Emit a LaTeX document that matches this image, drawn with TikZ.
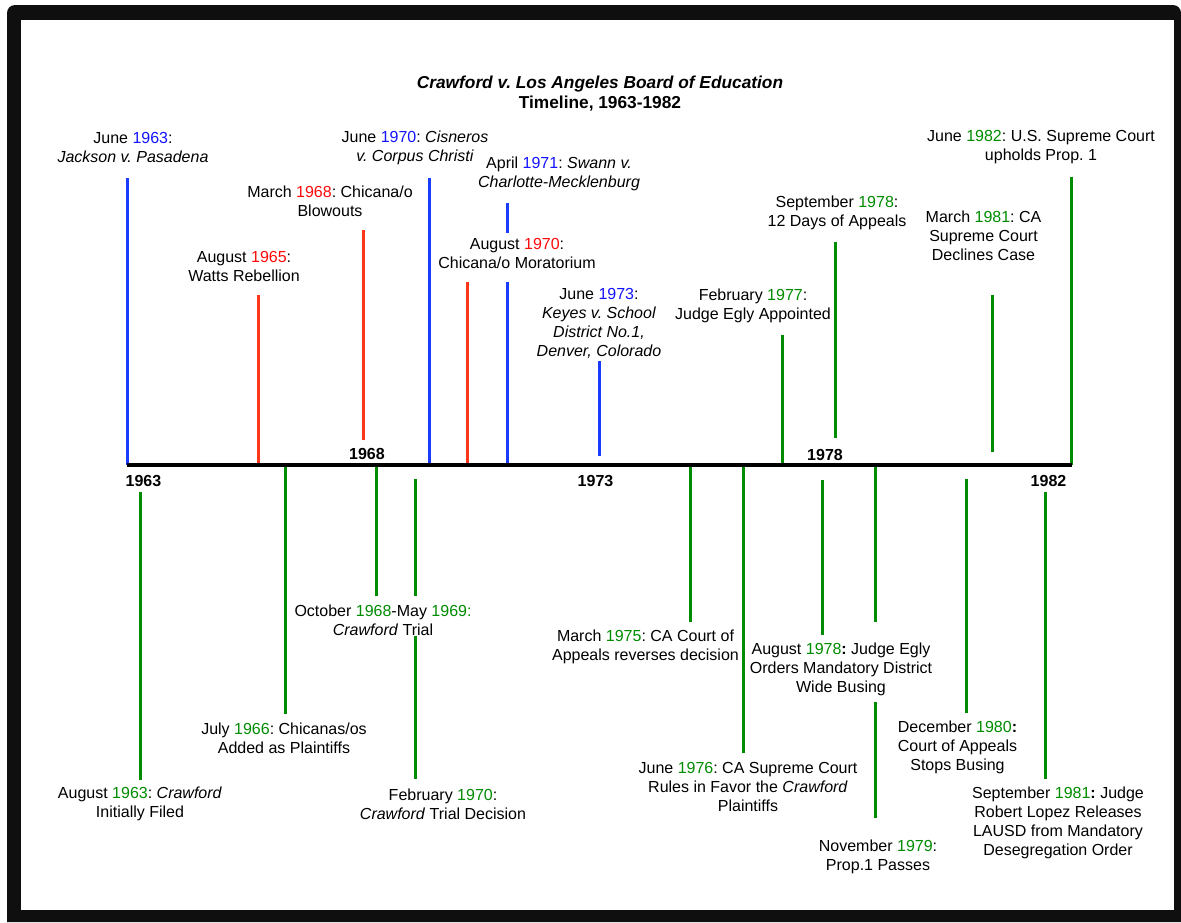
\documentclass[tikz,border=0pt]{standalone}
\usepackage{fontspec}
\setmainfont{Liberation Sans}
\frenchspacing

\definecolor{lineblue}{RGB}{25,60,255}
\definecolor{linered}{RGB}{255,55,25}
\definecolor{linegreen}{RGB}{0,140,0}
\definecolor{yrblue}{RGB}{20,20,255}
\definecolor{yrred}{RGB}{255,10,10}
\definecolor{yrgreen}{RGB}{0,140,0}
\newcommand{\byr}[1]{\textcolor{yrblue}{#1}}
\newcommand{\ryr}[1]{\textcolor{yrred}{#1}}
\newcommand{\gyr}[1]{\textcolor{yrgreen}{#1}}

\begin{document}
\begin{tikzpicture}[x=1pt, y=-1pt, font=\fontsize{16}{19}\selectfont]
        \tikzstyle{lbl}=[align=center, inner sep=0pt];
        \tikzstyle{yr}=[inner sep=0pt, font=\fontsize{16}{19}\selectfont\bfseries];
        \tikzstyle{bline}=[draw=lineblue, line width=3pt];
        \tikzstyle{rline}=[draw=linered, line width=3pt];
        \tikzstyle{gline}=[draw=linegreen, line width=3pt];
        \useasboundingbox (0,0) rectangle (1181,922);
        \fill[black!94] (1181,922) -- (7,922) {[rounded corners=8pt] -- (7,5) -- (1181,5)} -- cycle;
        \fill[white] (21,20) rectangle (1174,910);

        \node[lbl, font=\fontsize{17.3}{20}\selectfont\bfseries] (title) at (600,94) {\textit{Crawford v. Los Angeles Board of Education}\\Timeline, 1963-1982};

        % above the line
        \node[lbl] (jackson) at (133,147.5) {June \byr{1963}:\\\textit{Jackson v. Pasadena}};
        \node[lbl] (watts) at (244,266.5) {August \ryr{1965}:\\Watts Rebellion};
        \node[lbl] (blowouts) at (330,201.5) {March \ryr{1968}: Chicana/o\\Blowouts};
        \node[lbl] (cisneros) at (415,147.5) {June \byr{1970}: \textit{Cisneros}\\\textit{v. Corpus Christi}};
        \node[lbl] (swann) at (559,173.5) {April \byr{1971}: \textit{Swann v.}\\\textit{Charlotte-Mecklenburg}};
        \node[lbl] (moratorium) at (517,253) {August \ryr{1970}:\\Chicana/o Moratorium};
        \node[lbl] (keyes) at (599,323.5) {June \byr{1973}:\\\textit{Keyes v. School}\\\textit{District No.1,}\\\textit{Denver, Colorado}};
        \node[lbl] (appointed) at (753,305.5) {February \gyr{1977}:\\Judge Egly Appointed};
        \node[lbl] (appeals) at (837,212.5) {September \gyr{1978}:\\12 Days of Appeals};
        \node[lbl] (declines) at (983.5,235.5) {March \gyr{1981}: CA\\Supreme Court\\Declines Case};
        \node[lbl] (upholds) at (1041,147.5) {June \gyr{1982}: U.S. Supreme Court\\upholds Prop. 1};

        % below the line
        \node[lbl] (filed) at (140,804) {August \gyr{1963}: \textit{Crawford}\\Initially Filed};
        \node[lbl] (plaintiffs) at (284,738.5) {July \gyr{1966}: Chicanas/os\\Added as Plaintiffs};
        \node[lbl] (trial) at (383,620) {October \gyr{1968}-May \gyr{1969:}\\\textit{Crawford} Trial};
        \node[lbl] (decision) at (443,804) {February \gyr{1970}:\\\textit{Crawford} Trial Decision};
        \node[lbl] (reverses) at (645.5,646.5) {March \gyr{1975}: CA Court of\\Appeals reverses decision};
        \node[lbl] (favor) at (748,787) {June \gyr{1976}: CA Supreme Court\\Rules in Favor the \textit{Crawford}\\Plaintiffs};
        \node[lbl] (busing) at (841,669.5) {August \gyr{1978}\textbf{:} Judge Egly\\Orders Mandatory District\\Wide Busing};
        \node[lbl] (passes) at (878,856.5) {November \gyr{1979}:\\Prop.1 Passes};
        \node[lbl] (stops) at (957.5,747) {December \gyr{1980}\textbf{:}\\Court of Appeals\\Stops Busing};
        \node[lbl] (lopez) at (1058,823) {September \gyr{1981}\textbf{:} Judge\\Robert Lopez Releases\\LAUSD from Mandatory\\Desegregation Order};

        % line ends
        \coordinate (jackson-t) at (127,178);      \coordinate (jackson-b) at (127,465);
        \coordinate (watts-t) at (258,295);        \coordinate (watts-b) at (258,463);
        \coordinate (blowouts-t) at (363,230);     \coordinate (blowouts-b) at (363,440);
        \coordinate (cisneros-t) at (429,178);     \coordinate (cisneros-b) at (429,465);
        \coordinate (moratorium-t) at (467,282);   \coordinate (moratorium-b) at (467,463);
        \coordinate (swann-t) at (507,203);        \coordinate (swann-m) at (507,233);
        \coordinate (swann-n) at (507,282);        \coordinate (swann-b) at (507,465);
        \coordinate (keyes-t) at (599,361);        \coordinate (keyes-b) at (599,456);
        \coordinate (appointed-t) at (782,335);    \coordinate (appointed-b) at (782,465);
        \coordinate (appeals-t) at (835,242);      \coordinate (appeals-b) at (835,438);
        \coordinate (declines-t) at (992,295);     \coordinate (declines-b) at (992,452);
        \coordinate (upholds-t) at (1071,177);     \coordinate (upholds-b) at (1071,465);
        \coordinate (filed-t) at (140,492);        \coordinate (filed-b) at (140,780);
        \coordinate (plaintiffs-t) at (285,467);   \coordinate (plaintiffs-b) at (285,714);
        \coordinate (trial-t) at (376,467);        \coordinate (trial-b) at (376,596);
        \coordinate (decision-t) at (415,479);     \coordinate (decision-m) at (415,596);
        \coordinate (decision-n) at (415,636);     \coordinate (decision-b) at (415,779);
        \coordinate (reverses-t) at (690,467);     \coordinate (reverses-b) at (690,622);
        \coordinate (favor-t) at (743,467);        \coordinate (favor-b) at (743,753);
        \coordinate (busing-t) at (822,480);       \coordinate (busing-b) at (822,635);
        \coordinate (passes-t) at (875,467);       \coordinate (passes-m) at (875,622);
        \coordinate (passes-n) at (875,702);       \coordinate (passes-b) at (875,818);
        \coordinate (stops-t) at (966,479);        \coordinate (stops-b) at (966,713);
        \coordinate (lopez-t) at (1045,492);       \coordinate (lopez-b) at (1045,779);

        \path
        (jackson-t) edge[bline] (jackson-b)
        (watts-t) edge[rline] (watts-b)
        (blowouts-t) edge[rline] (blowouts-b)
        (cisneros-t) edge[bline] (cisneros-b)
        (moratorium-t) edge[rline] (moratorium-b)
        (swann-t) edge[bline] (swann-m)
        (swann-n) edge[bline] (swann-b)
        (keyes-t) edge[bline] (keyes-b)
        (appointed-t) edge[gline] (appointed-b)
        (appeals-t) edge[gline] (appeals-b)
        (declines-t) edge[gline] (declines-b)
        (upholds-t) edge[gline] (upholds-b)
        (filed-t) edge[gline] (filed-b)
        (plaintiffs-t) edge[gline] (plaintiffs-b)
        (trial-t) edge[gline] (trial-b)
        (decision-t) edge[gline] (decision-m)
        (decision-n) edge[gline] (decision-b)
        (reverses-t) edge[gline] (reverses-b)
        (favor-t) edge[gline] (favor-b)
        (busing-t) edge[gline] (busing-b)
        (passes-t) edge[gline] (passes-m)
        (passes-n) edge[gline] (passes-b)
        (stops-t) edge[gline] (stops-b)
        (lopez-t) edge[gline] (lopez-b);

        % the time line
        \coordinate (axis-w) at (127,465);
        \coordinate (axis-e) at (1072,465);
        \draw[line width=4pt] (axis-w) -- (axis-e);
        \node[yr] (y1963) at (143.5,481) {1963};
        \node[yr] (y1968) at (367,454) {1968};
        \node[yr] (y1973) at (595.5,481) {1973};
        \node[yr] (y1978) at (825,455) {1978};
        \node[yr] (y1982) at (1048.5,481) {1982};
\end{tikzpicture}
\end{document}
